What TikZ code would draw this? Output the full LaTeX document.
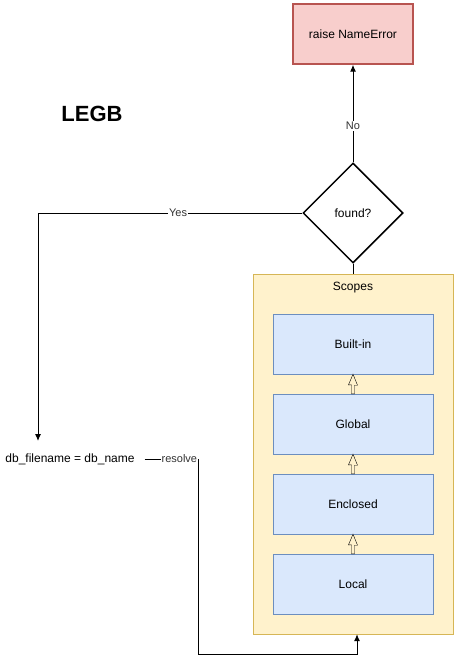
\documentclass[tikz,border=0pt]{standalone}
\usepackage{fontspec}
\setmainfont{Liberation Sans}
\usetikzlibrary{arrows.meta}
\usetikzlibrary{shapes.geometric}

\definecolor{errfill}{HTML}{F8CECC}
\definecolor{errline}{HTML}{B85450}
\definecolor{yelfill}{HTML}{FFF2CC}
\definecolor{yelline}{HTML}{D6B656}
\definecolor{bluefill}{HTML}{DAE8FC}
\definecolor{blueline}{HTML}{6C8EBF}
\definecolor{lbltext}{HTML}{333333}

\begin{document}
\begin{tikzpicture} [x=1pt,y=-1pt,font=\fontsize{12}{14}\selectfont,
  scopebox/.style={draw=blueline, fill=bluefill, minimum width=160pt, minimum height=60pt, inner sep=0pt},
  lbl/.style={fill=white, inner sep=1pt, text=lbltext, font=\fontsize{11}{13}\selectfont},
  link/.style={line width=1pt, -{Latex[length=7pt,width=6pt]}}]
\useasboundingbox (0,0) rectangle (457,666);

\node[draw=errline, fill=errfill, line width=1.5pt, minimum width=120pt, minimum height=60pt] (err) at (353,34) {raise NameError};
\node[font=\fontsize{22}{26}\selectfont\bfseries] (legb) at (92,114) {LEGB};
\node[diamond, draw, line width=1.5pt, minimum width=100pt, minimum height=100pt, inner sep=0pt] (found) at (353,213) {found?};

% container of the four scopes
\node[draw=yelline, fill=yelfill, minimum width=200pt, minimum height=360pt] (scopes) at (353,454) {};
\node (scopestitle) at (353,288) {Scopes};

\foreach \name/\txt/\y in {builtin/Built-in/344, global/Global/424, enclosed/Enclosed/504, local/Local/584}
  \node[scopebox] (\name) at (353,\y) {\txt};

\foreach \a/\b in {local/enclosed, enclosed/global, global/builtin}
  \draw[fill=yelfill] ([xshift=-1.5pt]\a.north) -- ++(0,-9) -- ++(-3,0) -- (\b.south) -- ++(4.5,11) -- ++(-3,0) -- ([xshift=1.5pt]\a.north) -- cycle;

\node[inner xsep=10pt] (db) at (70,459) {db\_filename = db\_name};
\coordinate (dbin) at (38,441);

\draw[link] (found.north) -- node[lbl, pos=0.37] {No} (err.south);
\draw[link] (found.west) -- node[lbl, pos=0.47] {Yes} (38,213) -- (dbin);
\draw[line width=1pt] (found.south) -- (scopes.north);
\draw[link] (db.east) -- node[lbl, pos=0.65] {resolve} (198,459) |- (357,654) -- ([xshift=4pt]scopes.south);
\end{tikzpicture}
\end{document}
